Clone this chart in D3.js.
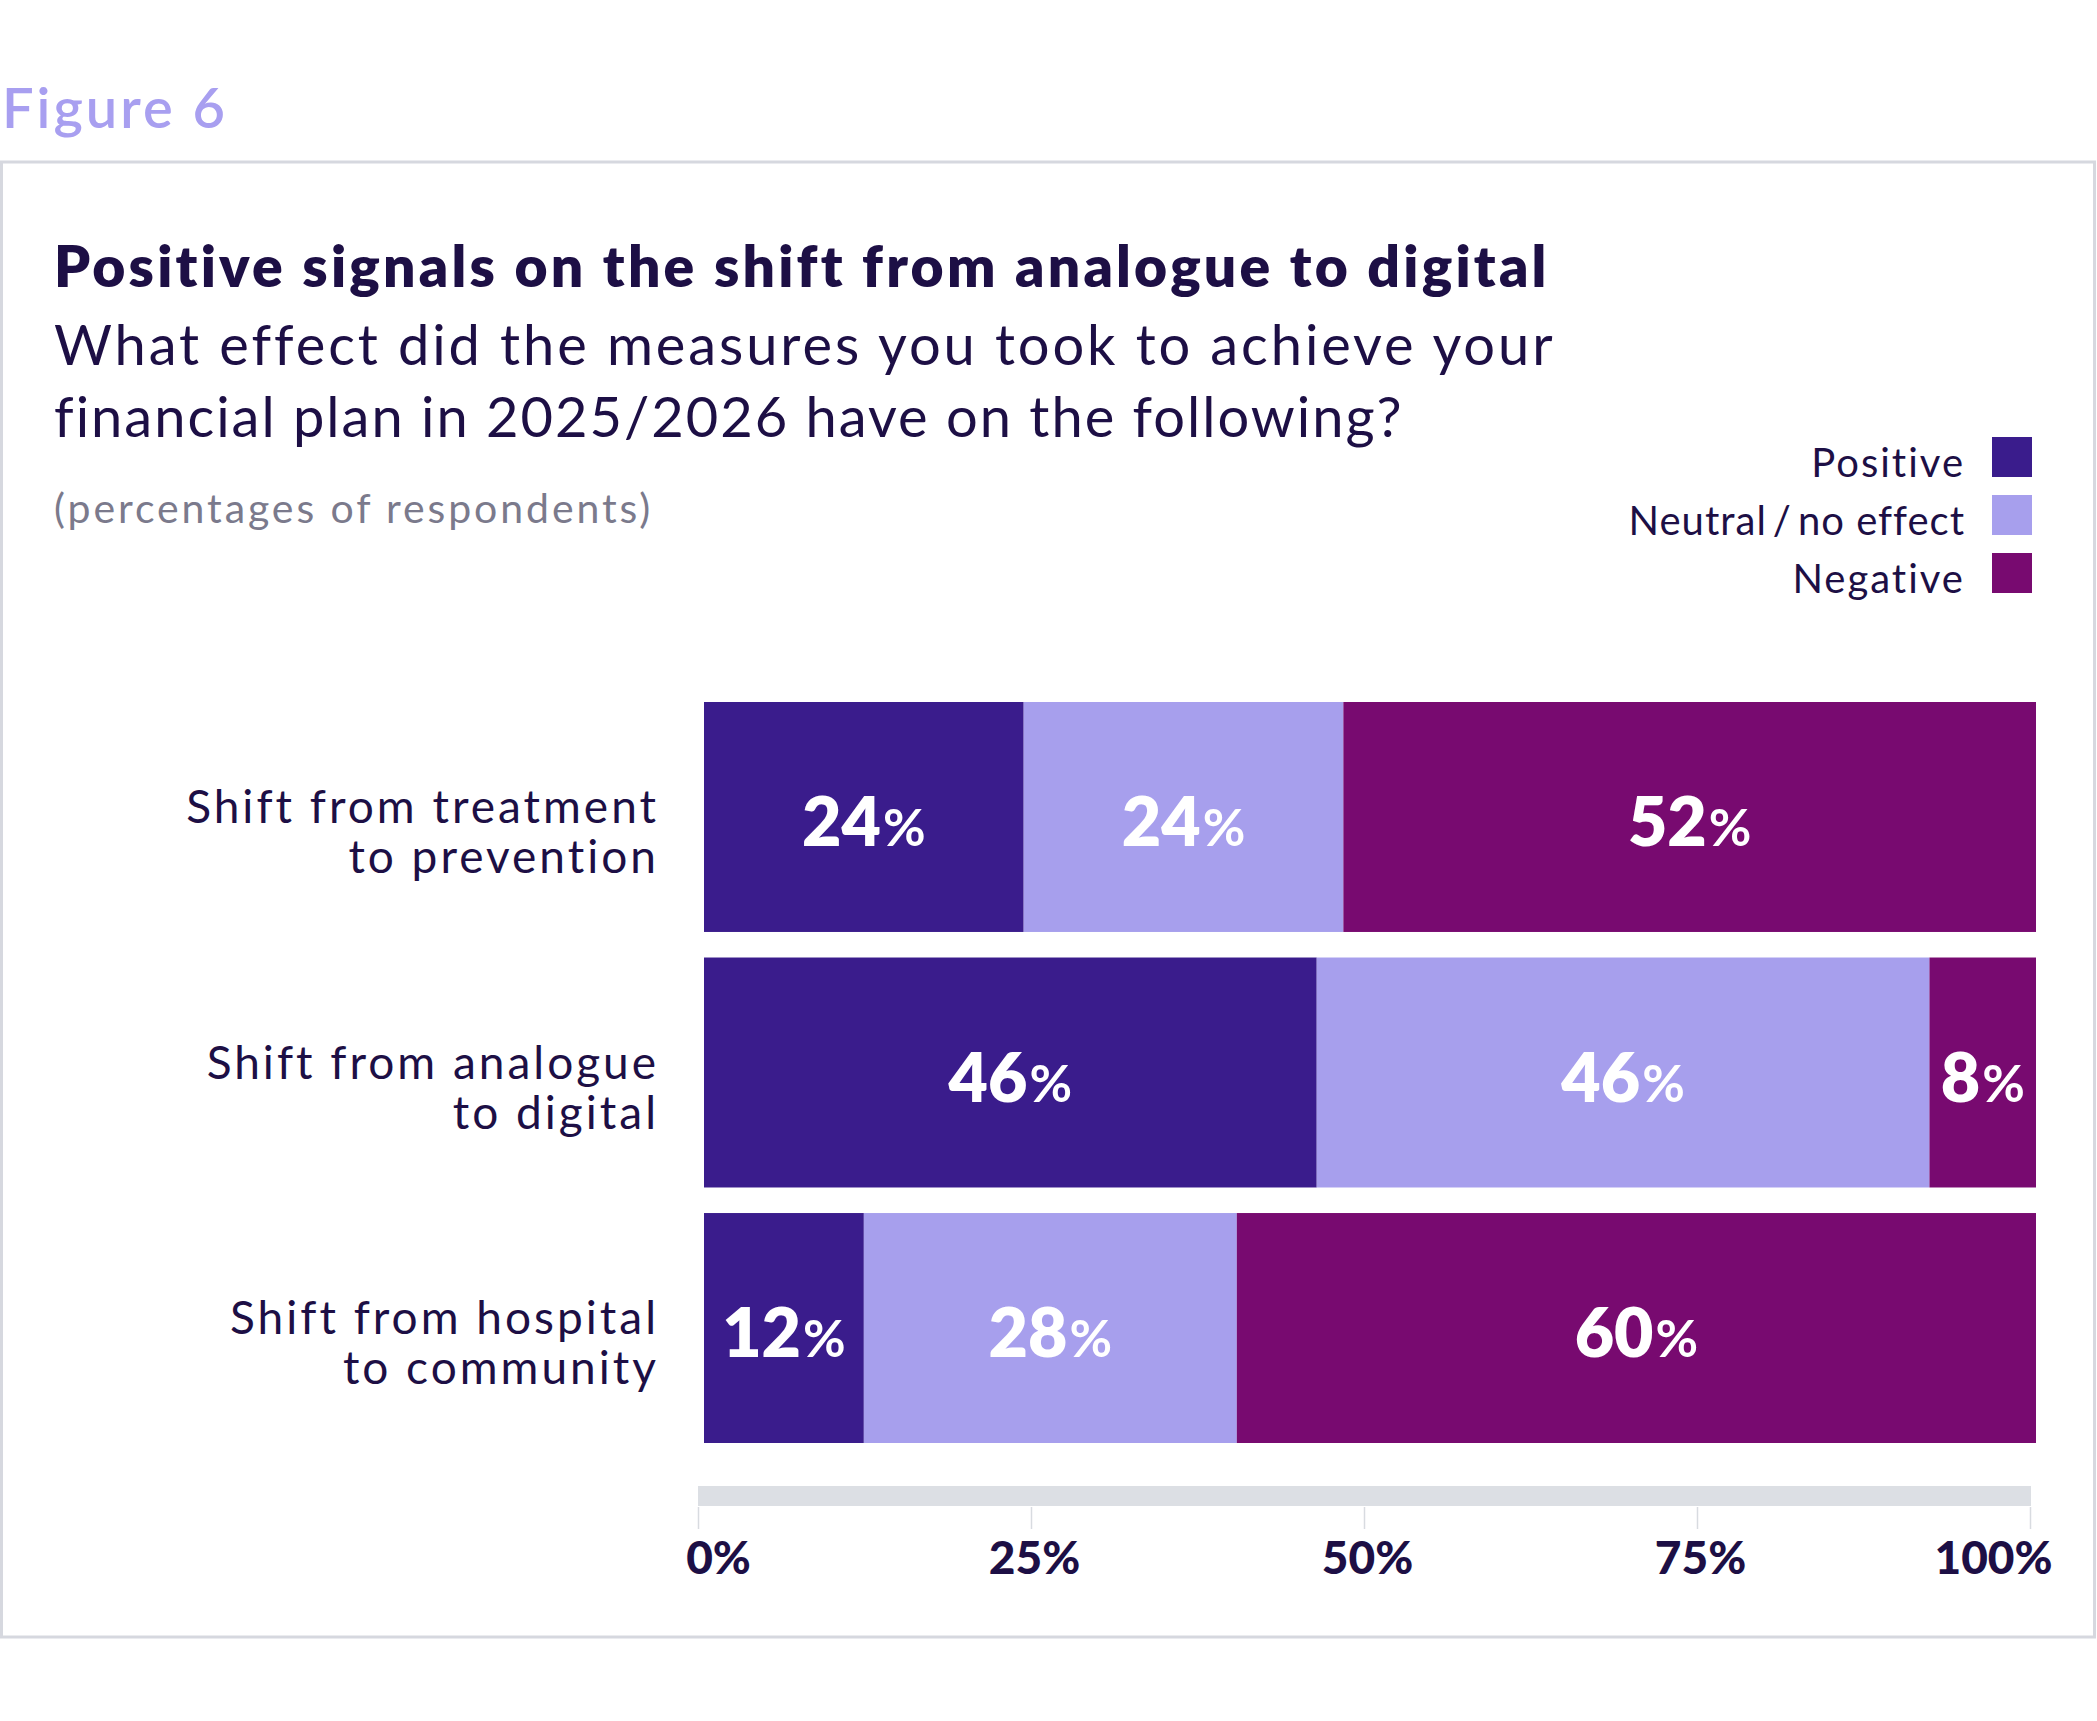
<!DOCTYPE html>
<html>
<head>
<meta charset="utf-8">
<script src="https://cdn.jsdelivr.net/npm/d3@7"></script>
<style>
  body { margin: 0; background: #fff; }
  text { font-family: "Lato", "Open Sans", sans-serif; }
</style>
</head>
<body>
<div id="chart"></div>
<script>
// data
var categories = [
  "Shift from treatment\nto prevention",
  "Shift from analogue\nto digital",
  "Shift from hospital\nto community"
];
var seriesNames = ["Positive", "Neutral\u2009/\u2009no effect", "Negative"];
var positive = [24, 46, 12];
var neutral  = [24, 46, 28];
var negative = [52, 8, 60];
var tickValues = [0, 25, 50, 75, 100];

var colors = ["#3a1c8c", "#a79fed", "#780a70"];
var ink = "#1d0f45";

var W = 2097, H = 1721;

var svg = d3.select("#chart").append("svg")
    .attr("width", W)
    .attr("height", H);

// figure label + frame
svg.append("text")
    .attr("x", 2)
    .attr("y", 128)
    .attr("font-size", 56)
    .attr("font-weight", 600)
    .attr("letter-spacing", 3)
    .attr("fill", "#a89ff0")
    .text("Figure 6");

svg.append("rect")
    .attr("x", 1.5)
    .attr("y", 162)
    .attr("width", 2093)
    .attr("height", 1475)
    .attr("fill", "none")
    .attr("stroke", "#d6d8df")
    .attr("stroke-width", 3);

// titles
svg.append("text")
    .attr("x", 54)
    .attr("y", 287)
    .attr("font-size", 57)
    .attr("font-weight", 800)
    .attr("letter-spacing", 3.2)
    .attr("fill", ink)
    .text("Positive signals on the shift from analogue to digital");

var sub = svg.append("text")
    .attr("x", 54)
    .attr("y", 365)
    .attr("font-size", 56)
    .attr("fill", ink);
sub.append("tspan").attr("x", 54).attr("letter-spacing", 2.9)
    .text("What effect did the measures you took to achieve your");
sub.append("tspan").attr("x", 54).attr("dy", 72).attr("letter-spacing", 2)
    .text("financial plan in 2025/2026 have on the following?");

svg.append("text")
    .attr("x", 54)
    .attr("y", 523)
    .attr("font-size", 41)
    .attr("letter-spacing", 2.9)
    .attr("fill", "#7b7a8c")
    .text("(percentages of respondents)");

// legend
var legend = svg.append("g")
    .selectAll("g")
    .data(seriesNames)
    .join("g")
    .attr("transform", function(d, i) { return "translate(0," + (437 + i * 58) + ")"; });

legend.append("rect")
    .attr("x", 1992)
    .attr("width", 40)
    .attr("height", 40)
    .attr("fill", function(d, i) { return colors[i]; });

legend.append("text")
    .attr("x", 1965)
    .attr("y", 40)
    .attr("text-anchor", "end")
    .attr("font-size", 40)
    .attr("letter-spacing", function(d, i) { return i === 1 ? 1 : 2; })
    .attr("fill", ink)
    .text(function(d) { return d; });

// scales
var x = d3.scaleLinear().domain([0, 100]).range([704, 2036]);
var y = d3.scaleBand().domain(categories).range([702, 1443]).paddingInner(0.1).paddingOuter(0);

// stacked rows
var rows = categories.map(function(c, i) {
  return { category: c, Positive: positive[i], Neutral: neutral[i], Negative: negative[i] };
});
var stack = d3.stack().keys(["Positive", "Neutral", "Negative"]);
var layers = stack(rows);

var layer = svg.append("g")
    .selectAll("g")
    .data(layers)
    .join("g")
    .attr("fill", function(d, i) { return colors[i]; });

layer.selectAll("rect")
    .data(function(d) { return d; })
    .join("rect")
    .attr("x", function(d) { return x(d[0]); })
    .attr("y", function(d) { return y(d.data.category); })
    .attr("width", function(d) { return x(d[1]) - x(d[0]); })
    .attr("height", y.bandwidth());

// value labels
var vlab = layer.selectAll("text")
    .data(function(d) { return d; })
    .join("text")
    .attr("x", function(d) { return (x(d[0]) + x(d[1])) / 2; })
    .attr("y", function(d) { return y(d.data.category) + y.bandwidth() / 2 + 29; })
    .attr("text-anchor", "middle")
    .attr("fill", "#fff")
    .attr("font-weight", 800)
    .attr("font-size", 68);
vlab.append("tspan").text(function(d) { return d[1] - d[0]; });
vlab.append("tspan").attr("font-size", 52).attr("font-weight", 700).attr("dx", 2).text("%");

// category labels
var clab = svg.append("g")
    .selectAll("text")
    .data(categories)
    .join("text")
    .attr("text-anchor", "end")
    .attr("font-size", 46)
    .attr("letter-spacing", 3)
    .attr("fill", ink)
    .attr("y", function(d) { return y(d) + y.bandwidth() / 2 + 6; });
clab.selectAll("tspan")
    .data(function(d) { return d.split("\n"); })
    .join("tspan")
    .attr("x", 659)
    .attr("dy", function(d, i) { return i ? 50 : 0; })
    .text(function(d) { return d; });

// axis
var axisG = svg.append("g")
    .attr("transform", "translate(-6,0)");

axisG.append("rect")
    .attr("x", x(0))
    .attr("y", 1486)
    .attr("width", x(100) - x(0) + 1)
    .attr("height", 20)
    .attr("fill", "#dcdfe4");

var axis = d3.axisBottom(x)
    .tickValues(tickValues)
    .tickSize(22)
    .tickPadding(12)
    .tickFormat(function(d) { return d + "%"; });

var ax = axisG.append("g")
    .attr("transform", "translate(0,1507)")
    .call(axis);
ax.select(".domain").remove();
ax.selectAll(".tick line").attr("stroke", "#d8dbe0").attr("stroke-width", 1.5);
ax.selectAll(".tick text")
    .attr("font-family", "Lato")
    .attr("font-size", 46)
    .attr("font-weight", 900)
    .attr("fill", ink)
    .attr("dy", "0.71em")
    .attr("y", 34)
    .attr("dx", function(d) { return d === 0 ? 20 : (d === 100 ? -37 : 3); });
</script>
</body>
</html>
